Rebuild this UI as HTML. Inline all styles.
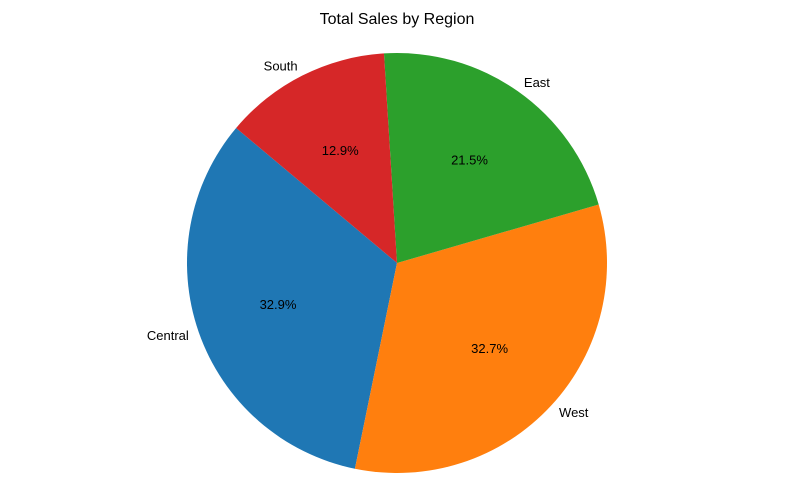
<!DOCTYPE html>
<html><head><meta charset="utf-8"><style>
html,body{margin:0;padding:0;background:#fff;}
svg{display:block;font-family:"Liberation Sans","DejaVu Sans",sans-serif;}
</style></head><body>
<svg id="chart" width="794" height="504" viewBox="0 0 794 504">
<text x="397" y="24" text-anchor="middle" font-size="16" fill="#000">Total Sales by Region</text>
<g id="slices"></g>
<g id="labels"></g>
</svg>
<script>
const categories = ["Central", "West", "East", "South"];
const shares = [32.9, 32.7, 21.5, 12.9];
const pctLabels = ["32.9%", "32.7%", "21.5%", "12.9%"];
const colors = ["#1f77b4", "#ff7f0e", "#2ca02c", "#d62728"];
const cx = 397, cy = 263, r = 210, start = 140;
const NS = "http://www.w3.org/2000/svg";
const total = shares.reduce((a, b) => a + b, 0);
const sg = document.getElementById('slices'), lg = document.getElementById('labels');
function pt(deg, rr) { const a = deg * Math.PI / 180; return [cx + rr * Math.cos(a), cy - rr * Math.sin(a)]; }
let ang = start;
shares.forEach((v, i) => {
  const sweep = v / total * 360;
  const a0 = ang, a1 = ang + sweep;
  const p0 = pt(a0, r), p1 = pt(a1, r);
  const large = sweep > 180 ? 1 : 0;
  const path = document.createElementNS(NS, 'path');
  path.setAttribute('d', `M${cx},${cy} L${p0[0]},${p0[1]} A${r},${r} 0 ${large} 0 ${p1[0]},${p1[1]} Z`);
  path.setAttribute('fill', colors[i]);
  
  
  sg.appendChild(path);
  const mid = (a0 + a1) / 2;
  const lp = pt(mid, r * 1.05);
  const t = document.createElementNS(NS, 'text');
  t.setAttribute('x', lp[0]); t.setAttribute('y', lp[1]);
  t.setAttribute('text-anchor', lp[0] >= cx ? 'start' : 'end');
  t.setAttribute('dominant-baseline', 'central');
  t.setAttribute('font-size', '13');
  t.textContent = categories[i];
  
  
  lg.appendChild(t);
  const pp = pt(mid, r * 0.6);
  const p = document.createElementNS(NS, 'text');
  p.setAttribute('x', pp[0]); p.setAttribute('y', pp[1]);
  p.setAttribute('text-anchor', 'middle');
  p.setAttribute('dominant-baseline', 'central');
  p.setAttribute('font-size', '13');
  p.textContent = pctLabels[i];
  
  
  lg.appendChild(p);
  ang = a1;
});
</script>
</body></html>
